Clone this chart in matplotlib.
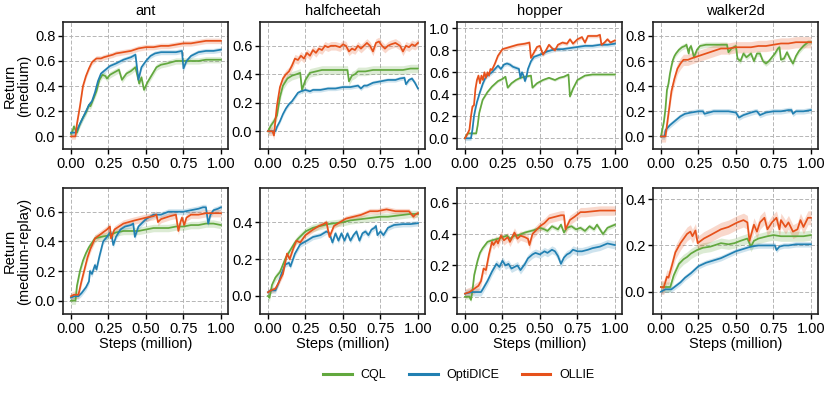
import numpy as np
import matplotlib
matplotlib.use("Agg")
import matplotlib.pyplot as plt
from matplotlib.lines import Line2D

plt.rcParams['font.family'] = ['Liberation Sans', 'DejaVu Sans']

METHODS = ["CQL", "OptiDICE", "OLLIE"]
COLORS = {"CQL": "#62A83E", "OptiDICE": "#2180B2", "OLLIE": "#E6511B"}
ENVS = ["ant", "halfcheetah", "hopper", "walker2d"]
DATASETS = ["medium", "medium-replay"]
X_TICKS = [0.0, 0.25, 0.5, 0.75, 1.0]
X_TICK_LABELS = ["0.00", "0.25", "0.50", "0.75", "1.00"]

# ---------------- ant / medium ----------------
ANT_MED_CQL_X = [0.0, 0.01, 0.02, 0.03, 0.04, 0.06, 0.08, 0.1, 0.12, 0.13, 0.15, 0.17, 0.19, 0.21, 0.23, 0.24, 0.26, 0.29, 0.32, 0.34, 0.37, 0.4, 0.43, 0.455, 0.47, 0.487, 0.51, 0.53, 0.57, 0.6, 0.64, 0.7, 0.75, 0.8, 0.85, 0.9, 0.95, 1.0]
ANT_MED_CQL_Y = [0.02, 0.04, 0.08, 0.05, 0.03, 0.1, 0.15, 0.19, 0.25, 0.24, 0.3, 0.36, 0.45, 0.49, 0.48, 0.46, 0.49, 0.51, 0.53, 0.45, 0.5, 0.52, 0.55, 0.42, 0.47, 0.37, 0.43, 0.47, 0.55, 0.57, 0.58, 0.6, 0.6, 0.6, 0.6, 0.61, 0.61, 0.61]
ANT_MED_CQL_SD = 0.025
ANT_MED_OPTI_X = [0.0, 0.03, 0.04, 0.06, 0.08, 0.1, 0.12, 0.14, 0.16, 0.18, 0.2, 0.23, 0.26, 0.3, 0.35, 0.4, 0.43, 0.45, 0.47, 0.5, 0.53, 0.56, 0.6, 0.65, 0.7, 0.74, 0.75, 0.77, 0.8, 0.85, 0.9, 0.95, 1.0]
ANT_MED_OPTI_Y = [0.03, 0.03, 0.05, 0.1, 0.15, 0.2, 0.25, 0.28, 0.35, 0.44, 0.5, 0.53, 0.56, 0.58, 0.61, 0.63, 0.65, 0.45, 0.55, 0.6, 0.64, 0.66, 0.67, 0.67, 0.67, 0.68, 0.54, 0.6, 0.64, 0.67, 0.68, 0.68, 0.69]
ANT_MED_OPTI_SD = 0.02
ANT_MED_OLLIE_X = [0.0, 0.03, 0.04, 0.06, 0.08, 0.1, 0.12, 0.14, 0.17, 0.2, 0.22, 0.25, 0.28, 0.3, 0.35, 0.4, 0.45, 0.5, 0.55, 0.6, 0.65, 0.7, 0.75, 0.8, 0.85, 0.9, 0.95, 1.0]
ANT_MED_OLLIE_Y = [0.0, 0.0, 0.1, 0.24, 0.4, 0.48, 0.54, 0.59, 0.62, 0.62, 0.63, 0.64, 0.65, 0.66, 0.67, 0.68, 0.7, 0.71, 0.71, 0.72, 0.72, 0.73, 0.74, 0.74, 0.75, 0.76, 0.76, 0.76]
ANT_MED_OLLIE_SD = 0.022

# ---------------- halfcheetah / medium ----------------
HC_MED_CQL_X = [0.0, 0.02, 0.04, 0.06, 0.08, 0.1, 0.13, 0.16, 0.19, 0.215, 0.227, 0.25, 0.28, 0.32, 0.36, 0.4, 0.45, 0.5, 0.53, 0.54, 0.56, 0.58, 0.6, 0.65, 0.7, 0.75, 0.8, 0.85, 0.9, 0.95, 1.0]
HC_MED_CQL_Y = [0.0, 0.04, 0.07, 0.11, 0.24, 0.32, 0.37, 0.39, 0.4, 0.41, 0.29, 0.36, 0.41, 0.42, 0.43, 0.43, 0.43, 0.43, 0.43, 0.35, 0.39, 0.4, 0.42, 0.42, 0.43, 0.43, 0.43, 0.43, 0.43, 0.44, 0.44]
HC_MED_CQL_SD = 0.03
HC_MED_OPTI_X = [0.0, 0.05, 0.06, 0.08, 0.1, 0.12, 0.14, 0.16, 0.18, 0.2, 0.22, 0.25, 0.28, 0.3, 0.35, 0.4, 0.45, 0.5, 0.55, 0.6, 0.62, 0.64, 0.66, 0.7, 0.75, 0.8, 0.85, 0.88, 0.91, 0.92, 0.94, 0.96, 0.98, 1.0]
HC_MED_OPTI_Y = [0.0, 0.0, 0.03, 0.07, 0.12, 0.16, 0.19, 0.21, 0.24, 0.27, 0.28, 0.29, 0.28, 0.29, 0.29, 0.3, 0.3, 0.31, 0.31, 0.32, 0.3, 0.32, 0.32, 0.34, 0.35, 0.36, 0.36, 0.37, 0.375, 0.33, 0.36, 0.37, 0.34, 0.3]
HC_MED_OPTI_SD = 0.015
HC_MED_OLLIE_X = [0.0, 0.03, 0.04, 0.05, 0.06, 0.08, 0.1, 0.12, 0.14, 0.16, 0.18, 0.2, 0.22, 0.24, 0.26, 0.28, 0.3, 0.32, 0.34, 0.36, 0.38, 0.4, 0.42, 0.45, 0.48, 0.5, 0.52, 0.54, 0.56, 0.58, 0.6, 0.62, 0.64, 0.66, 0.68, 0.7, 0.72, 0.74, 0.76, 0.78, 0.8, 0.82, 0.85, 0.88, 0.9, 0.92, 0.94, 0.96, 0.98, 1.0]
HC_MED_OLLIE_Y = [0.0, 0.0, -0.03, 0.08, 0.18, 0.31, 0.37, 0.4, 0.42, 0.46, 0.51, 0.5, 0.53, 0.51, 0.55, 0.53, 0.57, 0.55, 0.58, 0.57, 0.6, 0.59, 0.6, 0.6, 0.59, 0.61, 0.6, 0.56, 0.58, 0.57, 0.6, 0.58, 0.6, 0.62, 0.6, 0.56, 0.62, 0.63, 0.6, 0.58, 0.6, 0.61, 0.62, 0.6, 0.56, 0.6, 0.59, 0.61, 0.6, 0.62]
HC_MED_OLLIE_SD = 0.03

# ---------------- hopper / medium ----------------
HOP_MED_CQL_X = [0.0, 0.01, 0.02, 0.075, 0.085, 0.095, 0.118, 0.15, 0.18, 0.22, 0.25, 0.27, 0.285, 0.31, 0.34, 0.37, 0.4, 0.44, 0.45, 0.48, 0.52, 0.56, 0.6, 0.63, 0.66, 0.69, 0.7, 0.72, 0.75, 0.8, 0.85, 0.9, 0.95, 1.0]
HOP_MED_CQL_Y = [0.0, 0.03, 0.045, 0.045, 0.12, 0.23, 0.35, 0.42, 0.47, 0.52, 0.54, 0.56, 0.46, 0.5, 0.53, 0.55, 0.56, 0.57, 0.46, 0.5, 0.53, 0.55, 0.53, 0.55, 0.56, 0.58, 0.38, 0.45, 0.53, 0.57, 0.58, 0.58, 0.58, 0.58]
HOP_MED_CQL_SD = 0.012
HOP_MED_OPTI_X = [0.0, 0.04, 0.05, 0.06, 0.07, 0.08, 0.1, 0.12, 0.14, 0.16, 0.18, 0.2, 0.22, 0.24, 0.26, 0.28, 0.3, 0.32, 0.34, 0.36, 0.37, 0.38, 0.39, 0.4, 0.41, 0.42, 0.44, 0.46, 0.5, 0.55, 0.6, 0.65, 0.7, 0.75, 0.8, 0.85, 0.9, 0.95, 1.0]
HOP_MED_OPTI_Y = [0.0, 0.0, 0.08, 0.2, 0.27, 0.33, 0.42, 0.5, 0.56, 0.58, 0.6, 0.63, 0.66, 0.63, 0.67, 0.68, 0.67, 0.65, 0.64, 0.63, 0.55, 0.6, 0.57, 0.52, 0.56, 0.63, 0.7, 0.74, 0.76, 0.79, 0.81, 0.81, 0.82, 0.83, 0.84, 0.84, 0.85, 0.85, 0.86]
HOP_MED_OPTI_SD = 0.02
HOP_MED_OLLIE_X = [0.0, 0.02, 0.03, 0.04, 0.05, 0.06, 0.07, 0.08, 0.09, 0.1, 0.11, 0.12, 0.13, 0.14, 0.15, 0.16, 0.17, 0.18, 0.2, 0.22, 0.25, 0.3, 0.35, 0.4, 0.43, 0.44, 0.46, 0.48, 0.5, 0.52, 0.54, 0.56, 0.58, 0.6, 0.62, 0.65, 0.68, 0.7, 0.72, 0.75, 0.78, 0.8, 0.82, 0.85, 0.88, 0.9, 0.91, 0.93, 0.95, 0.97, 1.0]
HOP_MED_OLLIE_Y = [0.0, 0.05, 0.08, 0.2, 0.29, 0.3, 0.45, 0.53, 0.57, 0.5, 0.57, 0.53, 0.6, 0.55, 0.6, 0.57, 0.63, 0.62, 0.68, 0.75, 0.81, 0.83, 0.85, 0.86, 0.87, 0.73, 0.78, 0.83, 0.84, 0.76, 0.8, 0.85, 0.82, 0.8, 0.85, 0.87, 0.86, 0.9, 0.86, 0.9, 0.92, 0.87, 0.93, 0.93, 0.93, 0.94, 0.85, 0.87, 0.9, 0.87, 0.89]
HOP_MED_OLLIE_SD = 0.017

# ---------------- walker2d / medium ----------------
WAL_MED_CQL_X = [0.0, 0.02, 0.03, 0.04, 0.05, 0.06, 0.07, 0.08, 0.09, 0.1, 0.12, 0.14, 0.16, 0.17, 0.185, 0.19, 0.2, 0.21, 0.22, 0.24, 0.26, 0.3, 0.35, 0.4, 0.44, 0.45, 0.47, 0.5, 0.51, 0.53, 0.55, 0.57, 0.6, 0.62, 0.64, 0.66, 0.68, 0.7, 0.72, 0.74, 0.76, 0.78, 0.79, 0.8, 0.82, 0.84, 0.86, 0.88, 0.9, 0.92, 0.95, 0.98, 1.0]
WAL_MED_CQL_Y = [0.0, 0.12, 0.22, 0.37, 0.42, 0.5, 0.56, 0.61, 0.64, 0.66, 0.69, 0.71, 0.72, 0.73, 0.66, 0.7, 0.72, 0.68, 0.63, 0.69, 0.72, 0.73, 0.73, 0.73, 0.73, 0.67, 0.7, 0.72, 0.62, 0.6, 0.66, 0.63, 0.66, 0.6, 0.66, 0.66, 0.6, 0.58, 0.6, 0.63, 0.66, 0.7, 0.71, 0.61, 0.62, 0.67, 0.62, 0.58, 0.64, 0.68, 0.72, 0.75, 0.75]
WAL_MED_CQL_SD = 0.022
WAL_MED_OPTI_X = [0.0, 0.025, 0.03, 0.06, 0.1, 0.13, 0.16, 0.2, 0.25, 0.28, 0.29, 0.32, 0.35, 0.4, 0.45, 0.5, 0.51, 0.52, 0.55, 0.6, 0.63, 0.64, 0.66, 0.7, 0.75, 0.8, 0.85, 0.87, 0.88, 0.9, 0.95, 1.0]
WAL_MED_OPTI_Y = [0.0, 0.0, 0.05, 0.09, 0.13, 0.16, 0.18, 0.19, 0.2, 0.2, 0.18, 0.19, 0.2, 0.2, 0.2, 0.19, 0.17, 0.15, 0.17, 0.19, 0.2, 0.2, 0.17, 0.19, 0.2, 0.2, 0.21, 0.21, 0.18, 0.2, 0.2, 0.21]
WAL_MED_OPTI_SD = 0.022
WAL_MED_OLLIE_X = [0.0, 0.03, 0.05, 0.07, 0.09, 0.11, 0.13, 0.15, 0.18, 0.2, 0.25, 0.3, 0.35, 0.4, 0.45, 0.5, 0.55, 0.6, 0.65, 0.7, 0.75, 0.8, 0.85, 0.9, 0.95, 1.0]
WAL_MED_OLLIE_Y = [0.0, 0.0, 0.18, 0.36, 0.46, 0.54, 0.58, 0.61, 0.61, 0.62, 0.64, 0.66, 0.68, 0.7, 0.7, 0.71, 0.71, 0.71, 0.72, 0.72, 0.73, 0.74, 0.74, 0.75, 0.75, 0.75]
WAL_MED_OLLIE_SD = 0.045

# ---------------- ant / medium-replay ----------------
ANT_MR_CQL_X = [0.0, 0.03, 0.04, 0.06, 0.08, 0.1, 0.12, 0.14, 0.16, 0.2, 0.25, 0.3, 0.35, 0.4, 0.45, 0.5, 0.55, 0.6, 0.65, 0.7, 0.75, 0.8, 0.85, 0.9, 0.95, 1.0]
ANT_MR_CQL_Y = [0.0, 0.0, 0.1, 0.2, 0.27, 0.32, 0.36, 0.39, 0.42, 0.43, 0.44, 0.46, 0.47, 0.47, 0.47, 0.48, 0.49, 0.49, 0.49, 0.5, 0.5, 0.51, 0.51, 0.52, 0.52, 0.51]
ANT_MR_CQL_SD = 0.025
ANT_MR_OPTI_X = [0.0, 0.02, 0.05, 0.07, 0.1, 0.12, 0.127, 0.14, 0.16, 0.17, 0.19, 0.215, 0.24, 0.26, 0.27, 0.282, 0.3, 0.33, 0.36, 0.4, 0.415, 0.426, 0.45, 0.48, 0.5, 0.55, 0.6, 0.65, 0.7, 0.75, 0.8, 0.85, 0.88, 0.9, 0.915, 0.93, 0.95, 0.98, 1.0]
ANT_MR_OPTI_Y = [0.02, 0.03, 0.03, 0.05, 0.09, 0.13, 0.2, 0.18, 0.24, 0.21, 0.3, 0.4, 0.43, 0.46, 0.45, 0.375, 0.43, 0.48, 0.5, 0.51, 0.52, 0.43, 0.5, 0.53, 0.55, 0.58, 0.58, 0.6, 0.6, 0.6, 0.61, 0.62, 0.63, 0.63, 0.52, 0.58, 0.61, 0.62, 0.63]
ANT_MR_OPTI_SD = 0.02
ANT_MR_OLLIE_X = [0.0, 0.02, 0.05, 0.07, 0.09, 0.11, 0.13, 0.16, 0.2, 0.24, 0.26, 0.267, 0.29, 0.32, 0.35, 0.42, 0.5, 0.55, 0.57, 0.58, 0.6, 0.63, 0.66, 0.7, 0.716, 0.73, 0.74, 0.755, 0.77, 0.8, 0.85, 0.9, 0.95, 1.0]
ANT_MR_OLLIE_Y = [0.03, 0.04, 0.04, 0.13, 0.21, 0.29, 0.35, 0.42, 0.45, 0.48, 0.5, 0.42, 0.48, 0.5, 0.52, 0.54, 0.56, 0.57, 0.58, 0.53, 0.55, 0.56, 0.57, 0.58, 0.47, 0.53, 0.56, 0.51, 0.56, 0.58, 0.58, 0.59, 0.59, 0.59]
ANT_MR_OLLIE_SD = 0.025

# ---------------- halfcheetah / medium-replay ----------------
HC_MR_CQL_X = [0.0, 0.01, 0.027, 0.05, 0.08, 0.1, 0.12, 0.15, 0.18, 0.2, 0.25, 0.3, 0.35, 0.4, 0.45, 0.5, 0.55, 0.6, 0.65, 0.7, 0.75, 0.8, 0.85, 0.9, 0.95, 1.0]
HC_MR_CQL_Y = [0.0, -0.01, 0.06, 0.1, 0.13, 0.17, 0.21, 0.25, 0.29, 0.31, 0.35, 0.37, 0.38, 0.39, 0.395, 0.4, 0.41, 0.415, 0.42, 0.425, 0.43, 0.43, 0.435, 0.44, 0.445, 0.445]
HC_MR_CQL_SD = 0.02
HC_MR_OPTI_X = [0.0, 0.02, 0.05, 0.07, 0.09, 0.115, 0.14, 0.15, 0.18, 0.215, 0.26, 0.3, 0.35, 0.39, 0.41, 0.43, 0.45, 0.47, 0.49, 0.51, 0.53, 0.55, 0.57, 0.59, 0.61, 0.63, 0.65, 0.67, 0.69, 0.71, 0.72, 0.73, 0.75, 0.77, 0.8, 0.84, 0.9, 0.95, 1.0]
HC_MR_OPTI_Y = [0.02, 0.03, 0.03, 0.07, 0.12, 0.17, 0.18, 0.16, 0.23, 0.28, 0.3, 0.32, 0.33, 0.35, 0.34, 0.29, 0.34, 0.3, 0.34, 0.3, 0.34, 0.3, 0.33, 0.35, 0.3, 0.34, 0.35, 0.33, 0.36, 0.37, 0.38, 0.33, 0.35, 0.33, 0.37, 0.385, 0.39, 0.39, 0.395]
HC_MR_OPTI_SD = 0.015
HC_MR_OLLIE_X = [0.0, 0.02, 0.05, 0.07, 0.1, 0.127, 0.145, 0.17, 0.19, 0.215, 0.25, 0.3, 0.34, 0.37, 0.39, 0.41, 0.44, 0.48, 0.52, 0.57, 0.62, 0.68, 0.73, 0.79, 0.85, 0.9, 0.94, 0.97, 0.98, 1.0]
HC_MR_OLLIE_Y = [0.02, 0.03, 0.04, 0.07, 0.12, 0.23, 0.2, 0.26, 0.3, 0.29, 0.33, 0.36, 0.38, 0.39, 0.4, 0.32, 0.38, 0.4, 0.42, 0.43, 0.44, 0.46, 0.46, 0.47, 0.46, 0.46, 0.46, 0.43, 0.44, 0.45]
HC_MR_OLLIE_SD = 0.015

# ---------------- hopper / medium-replay ----------------
HOP_MR_CQL_X = [0.0, 0.03, 0.04, 0.05, 0.062, 0.084, 0.1, 0.118, 0.15, 0.18, 0.22, 0.25, 0.28, 0.3, 0.33, 0.35, 0.4, 0.44, 0.46, 0.5, 0.53, 0.55, 0.58, 0.6, 0.62, 0.64, 0.66, 0.68, 0.71, 0.74, 0.77, 0.8, 0.83, 0.86, 0.88, 0.92, 0.95, 1.0]
HOP_MR_CQL_Y = [0.0, 0.0, -0.02, 0.04, 0.14, 0.23, 0.28, 0.31, 0.35, 0.36, 0.37, 0.38, 0.39, 0.37, 0.39, 0.39, 0.41, 0.42, 0.425, 0.44, 0.43, 0.42, 0.45, 0.44, 0.43, 0.46, 0.41, 0.44, 0.45, 0.43, 0.44, 0.42, 0.45, 0.43, 0.46, 0.4, 0.44, 0.46]
HOP_MR_CQL_SD = 0.015
HOP_MR_OPTI_X = [0.0, 0.05, 0.107, 0.12, 0.15, 0.18, 0.21, 0.23, 0.25, 0.27, 0.29, 0.31, 0.33, 0.35, 0.37, 0.4, 0.42, 0.45, 0.47, 0.5, 0.53, 0.55, 0.58, 0.6, 0.62, 0.64, 0.66, 0.68, 0.7, 0.72, 0.75, 0.78, 0.82, 0.85, 0.9, 0.95, 1.0]
HOP_MR_OPTI_Y = [0.02, 0.03, 0.03, 0.05, 0.1, 0.16, 0.21, 0.19, 0.23, 0.2, 0.21, 0.18, 0.19, 0.2, 0.17, 0.21, 0.245, 0.27, 0.28, 0.27, 0.29, 0.28, 0.3, 0.29, 0.26, 0.21, 0.25, 0.27, 0.28, 0.3, 0.29, 0.29, 0.3, 0.31, 0.32, 0.34, 0.33]
HOP_MR_OPTI_SD = 0.025
HOP_MR_OLLIE_X = [0.0, 0.03, 0.06, 0.09, 0.107, 0.124, 0.14, 0.16, 0.18, 0.19, 0.21, 0.22, 0.24, 0.26, 0.285, 0.3, 0.33, 0.35, 0.37, 0.4, 0.42, 0.43, 0.45, 0.48, 0.5, 0.53, 0.56, 0.6, 0.64, 0.66, 0.67, 0.7, 0.73, 0.77, 0.8, 0.85, 0.9, 0.95, 1.0]
HOP_MR_OLLIE_Y = [0.02, 0.03, 0.05, 0.07, 0.1, 0.18, 0.17, 0.27, 0.35, 0.33, 0.36, 0.34, 0.39, 0.36, 0.38, 0.35, 0.41, 0.37, 0.39, 0.38, 0.37, 0.33, 0.4, 0.43, 0.45, 0.47, 0.5, 0.51, 0.52, 0.52, 0.43, 0.49, 0.51, 0.54, 0.54, 0.545, 0.55, 0.55, 0.55]
HOP_MR_OLLIE_SD = 0.03

# ---------------- walker2d / medium-replay ----------------
WAL_MR_CQL_X = [0.0, 0.05, 0.0625, 0.085, 0.12, 0.15, 0.174, 0.2, 0.24, 0.28, 0.33, 0.4, 0.45, 0.49, 0.53, 0.576, 0.6, 0.62, 0.65, 0.71, 0.75, 0.8, 0.85, 0.9, 0.95, 1.0]
WAL_MR_CQL_Y = [0.02, 0.02, 0.02, 0.07, 0.12, 0.14, 0.15, 0.165, 0.18, 0.19, 0.195, 0.21, 0.205, 0.21, 0.22, 0.23, 0.195, 0.22, 0.23, 0.24, 0.245, 0.24, 0.24, 0.24, 0.24, 0.245]
WAL_MR_CQL_SD = 0.022
WAL_MR_OPTI_X = [0.0, 0.03, 0.07, 0.1, 0.13, 0.16, 0.2, 0.25, 0.3, 0.35, 0.4, 0.45, 0.5, 0.55, 0.6, 0.65, 0.7, 0.76, 0.77, 0.79, 0.82, 0.85, 0.9, 0.95, 1.0]
WAL_MR_OPTI_Y = [0.0, 0.01, 0.01, 0.025, 0.04, 0.06, 0.08, 0.11, 0.125, 0.135, 0.145, 0.16, 0.175, 0.185, 0.195, 0.2, 0.2, 0.2, 0.18, 0.195, 0.2, 0.2, 0.205, 0.205, 0.205]
WAL_MR_OPTI_SD = 0.012
WAL_MR_OLLIE_X = [0.0, 0.018, 0.04, 0.05, 0.074, 0.096, 0.13, 0.174, 0.196, 0.21, 0.23, 0.245, 0.286, 0.33, 0.4, 0.45, 0.51, 0.55, 0.576, 0.59, 0.62, 0.64, 0.66, 0.69, 0.71, 0.74, 0.77, 0.79, 0.8, 0.83, 0.85, 0.88, 0.91, 0.93, 0.95, 0.98, 1.0]
WAL_MR_OLLIE_Y = [0.02, 0.017, 0.065, 0.06, 0.115, 0.17, 0.21, 0.25, 0.26, 0.24, 0.265, 0.21, 0.23, 0.245, 0.27, 0.28, 0.3, 0.31, 0.3, 0.22, 0.29, 0.26, 0.3, 0.32, 0.27, 0.3, 0.32, 0.27, 0.31, 0.28, 0.3, 0.26, 0.27, 0.31, 0.28, 0.32, 0.32]
WAL_MR_OLLIE_SD = 0.03

Y_LIMS = [[(-0.1, 0.91), (-0.125, 0.767), (-0.097, 1.057), (-0.1, 0.911)],
          [(-0.09, 0.76), (-0.098, 0.586), (-0.11, 0.694), (-0.097, 0.449)]]
Y_TICKS = [[[0.0, 0.2, 0.4, 0.6, 0.8], [0.0, 0.2, 0.4, 0.6], [0.0, 0.2, 0.4, 0.6, 0.8, 1.0], [0.0, 0.2, 0.4, 0.6, 0.8]],
           [[0.0, 0.2, 0.4, 0.6], [0.0, 0.2, 0.4], [0.0, 0.2, 0.4, 0.6], [0.0, 0.2, 0.4]]]

PANELS = [
    [
        [(ANT_MED_CQL_X, ANT_MED_CQL_Y, ANT_MED_CQL_SD), (ANT_MED_OPTI_X, ANT_MED_OPTI_Y, ANT_MED_OPTI_SD), (ANT_MED_OLLIE_X, ANT_MED_OLLIE_Y, ANT_MED_OLLIE_SD)],
        [(HC_MED_CQL_X, HC_MED_CQL_Y, HC_MED_CQL_SD), (HC_MED_OPTI_X, HC_MED_OPTI_Y, HC_MED_OPTI_SD), (HC_MED_OLLIE_X, HC_MED_OLLIE_Y, HC_MED_OLLIE_SD)],
        [(HOP_MED_CQL_X, HOP_MED_CQL_Y, HOP_MED_CQL_SD), (HOP_MED_OPTI_X, HOP_MED_OPTI_Y, HOP_MED_OPTI_SD), (HOP_MED_OLLIE_X, HOP_MED_OLLIE_Y, HOP_MED_OLLIE_SD)],
        [(WAL_MED_CQL_X, WAL_MED_CQL_Y, WAL_MED_CQL_SD), (WAL_MED_OPTI_X, WAL_MED_OPTI_Y, WAL_MED_OPTI_SD), (WAL_MED_OLLIE_X, WAL_MED_OLLIE_Y, WAL_MED_OLLIE_SD)],
    ],
    [
        [(ANT_MR_CQL_X, ANT_MR_CQL_Y, ANT_MR_CQL_SD), (ANT_MR_OPTI_X, ANT_MR_OPTI_Y, ANT_MR_OPTI_SD), (ANT_MR_OLLIE_X, ANT_MR_OLLIE_Y, ANT_MR_OLLIE_SD)],
        [(HC_MR_CQL_X, HC_MR_CQL_Y, HC_MR_CQL_SD), (HC_MR_OPTI_X, HC_MR_OPTI_Y, HC_MR_OPTI_SD), (HC_MR_OLLIE_X, HC_MR_OLLIE_Y, HC_MR_OLLIE_SD)],
        [(HOP_MR_CQL_X, HOP_MR_CQL_Y, HOP_MR_CQL_SD), (HOP_MR_OPTI_X, HOP_MR_OPTI_Y, HOP_MR_OPTI_SD), (HOP_MR_OLLIE_X, HOP_MR_OLLIE_Y, HOP_MR_OLLIE_SD)],
        [(WAL_MR_CQL_X, WAL_MR_CQL_Y, WAL_MR_CQL_SD), (WAL_MR_OPTI_X, WAL_MR_OPTI_Y, WAL_MR_OPTI_SD), (WAL_MR_OLLIE_X, WAL_MR_OLLIE_Y, WAL_MR_OLLIE_SD)],
    ],
]

W, H = 831, 394
fig = plt.figure(figsize=(W / 100, H / 100), dpi=100)

AX_LEFT_PX = [63, 260, 457, 653]
AX_W_PX = 165
ROW_TOP_PX = [22, 188]
ROW_BOT_PX = [149, 314]

FS = 10.5
for r in range(2):
    for c in range(4):
        l = AX_LEFT_PX[c] / W
        b = 1 - ROW_BOT_PX[r] / H
        h = (ROW_BOT_PX[r] - ROW_TOP_PX[r]) / H
        ax = fig.add_axes([l, b, AX_W_PX / W, h])
        for m, (xs, ys, sd) in zip(METHODS, PANELS[r][c]):
            x = np.asarray(xs, dtype=float)
            y = np.asarray(ys, dtype=float)
            ax.fill_between(x, y - sd, y + sd, color=COLORS[m], alpha=0.22, lw=0)
            ax.plot(x, y, color=COLORS[m], lw=1.25)
        ax.set_xlim(-0.053, 1.047)
        ax.set_ylim(*Y_LIMS[r][c])
        ax.set_xticks(X_TICKS)
        ax.set_xticklabels(X_TICK_LABELS)
        ax.set_yticks(Y_TICKS[r][c])
        ax.set_yticklabels([f"{v:.1f}" for v in Y_TICKS[r][c]])
        ax.grid(True, ls=(0, (4, 2)), color="#b5b5b5", lw=0.7)
        ax.set_axisbelow(True)
        for s in ax.spines.values():
            s.set_linewidth(1.2)
            s.set_color("#222222")
        ax.tick_params(labelsize=FS, length=3.5, width=1.0, pad=2)
        if r == 0:
            ax.set_title(ENVS[c], fontsize=FS, pad=5)
        if r == 1:
            ax.set_xlabel("Steps (million)", fontsize=FS, labelpad=1)
        if c == 0:
            ax.set_ylabel(f"Return\n({DATASETS[r]})", fontsize=FS, labelpad=3, linespacing=1.0)

handles = [Line2D([], [], color=COLORS[m], lw=2.2) for m in METHODS]
fig.legend(handles, METHODS, loc="center", bbox_to_anchor=(0.552, 0.048), ncol=3,
           frameon=False, fontsize=9, handlelength=2.3, handletextpad=0.7, columnspacing=1.8)

fig.savefig("out.png", dpi=100)
